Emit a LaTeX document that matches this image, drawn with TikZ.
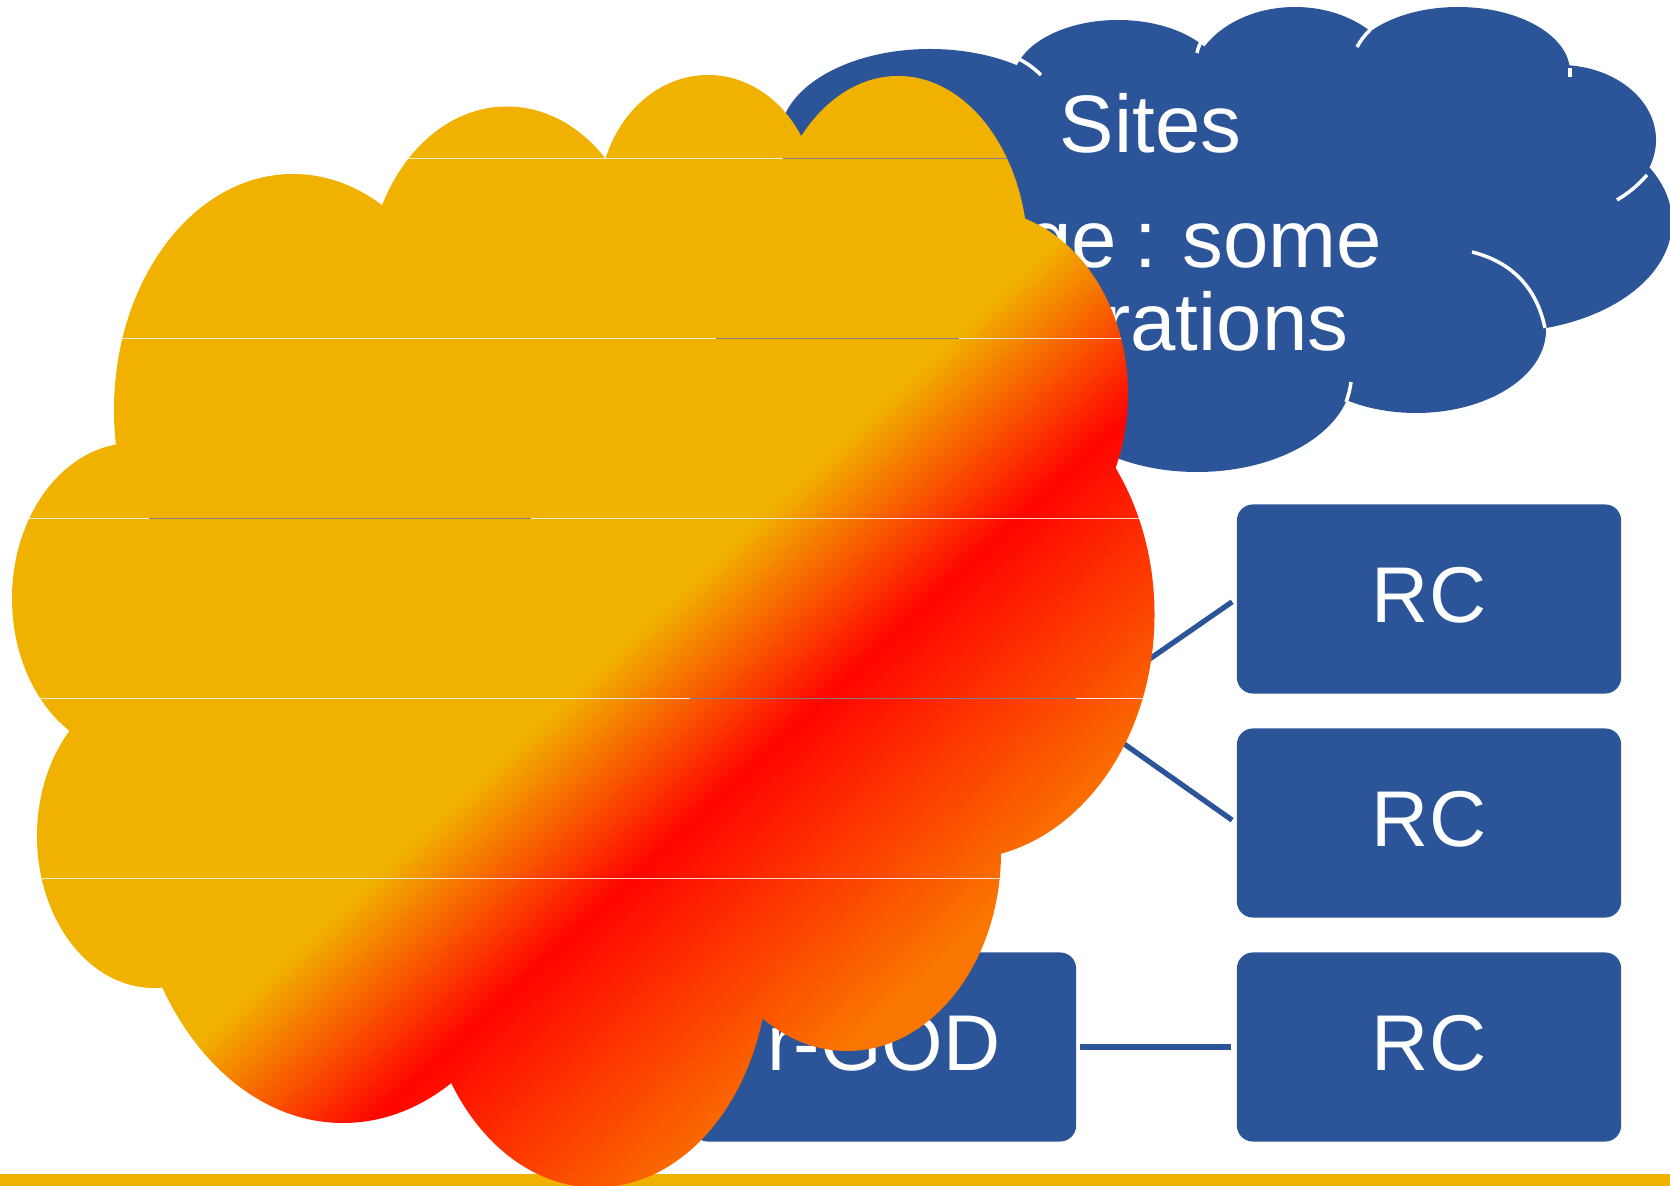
\documentclass[tikz,border=0pt]{standalone}
\usepackage{fontspec}
\setmainfont{Liberation Sans}
\definecolor{boxblue}{HTML}{2C5499}
\definecolor{cloudyellow}{HTML}{F1B100}
\definecolor{cloudred}{HTML}{FF0500}
\definecolor{cloudorange}{HTML}{F97600}
\pgfdeclarehorizontalshading{cloudfade}{600bp}{color(0bp)=(cloudyellow); color(255bp)=(cloudyellow); color(304.5bp)=(cloudred); color(381bp)=(cloudorange); color(510bp)=(cloudorange)}
\begin{document}
\begin{tikzpicture}[x=0.01cm, y=-0.01cm,
        box_style/.style={draw=none,fill=boxblue,rounded corners=0.16cm,minimum width=3.84cm,minimum height=1.89cm,
            inner sep=0pt,text=white,text height=0.57cm,text depth=0.1cm,font=\fontsize{22.5}{26}\selectfont},
        cloud_text_style/.style={anchor=base east,inner sep=0pt,text=white,font=\fontsize{23.2}{26}\selectfont},
        link_style/.style={draw=boxblue,line width=1.5pt,shorten >=1.4pt},
        bar_link_style/.style={draw=boxblue,line width=1.9pt,shorten >=1.4pt,shorten <=0.9pt},
        arc_style/.style={draw=white,line width=1pt}]
        \useasboundingbox (0,0) rectangle (1670,1186);

        % bar along the bottom
        \fill [cloudyellow] (0,1174) rectangle (1670,1186);

        % blue cloud
        \fill [boxblue] \foreach \cx/\cy/\rx/\ry in {930/137/150/88, 1118/82/105/62, 1295/87/105/80, 1458/72/112/65,
                1560/140/96/75, 1500/222/172/110, 1416/330/130/83, 1197/375/155/97, 1200/230/330/170}
                {(\cx,\cy) ellipse [x radius=\rx, y radius=\ry]};
        \draw [arc_style] (1017,58) to[bend left=8] (1041,75);
        \draw [arc_style] (1197,53) to[bend left=8] (1201,42);
        \draw [arc_style] (1357,47) to[bend left=8] (1370,30);
        \draw [arc_style] (1570,77) -- (1570,68);
        \draw [arc_style] (1617,200) to[bend right=8] (1647,175);
        \draw [arc_style] (1472,252) to[bend left=32] (1545,328);
        \draw [arc_style] (1351,382) to[bend left=6] (1346,402);
        \node [cloud_text_style](sites) at (1242,153) {Sites};
        \node [cloud_text_style](some) at (1383,268) {\spaceskip=0.218em ge : some};
        \node [cloud_text_style](rations) at (1349,351) {rations};

        % boxes
        \node [box_style](rc1) at (1429,599) {RC};
        \node [box_style](rc2) at (1429,823) {RC};
        \node [box_style](rc3) at (1429,1047) {RC};
        \node [box_style](rgod) at (884,1047) {r-GOD};
        \coordinate (hub) at (1076,710);
        \draw [link_style] (hub) -- (rc1.west);
        \draw [link_style] (hub) -- (rc2.west);
        \draw [bar_link_style] (rgod) -- (rc3);

        % gradient cloud
        \begin{scope}
            \clip \foreach \cx/\cy/\rx/\ry in {293/410/179/236, 507/286.5/140/180, 708/202/109/127, 898/257/130/181,
                    980/394/148/184, 958.5/614.5/196/245, 847/852/154/199, 596/958.5/172.5/229,
                    343/835/213/288, 154/836/117/152, 133/598.5/121/155.5, 596/596/420/370}
                    {(\cx,\cy) ellipse [x radius=\rx, y radius=\ry]};
            \node [inner sep=0pt,rotate=-47](fade) at (612,657) {\pgfuseshading{cloudfade}};
            \foreach \y in {158,338,518,698,878}
                \draw [white,opacity=0.8,line width=0.2pt] (0,\y) -- (1670,\y);
            \foreach \xa/\xb/\y in {783/1007/158, 716/959/338, 149/531/518, 690/1076/698}
                \draw [gray,line width=0.2pt] (\xa,\y) -- (\xb,\y);
        \end{scope}
\end{tikzpicture}
\end{document}
